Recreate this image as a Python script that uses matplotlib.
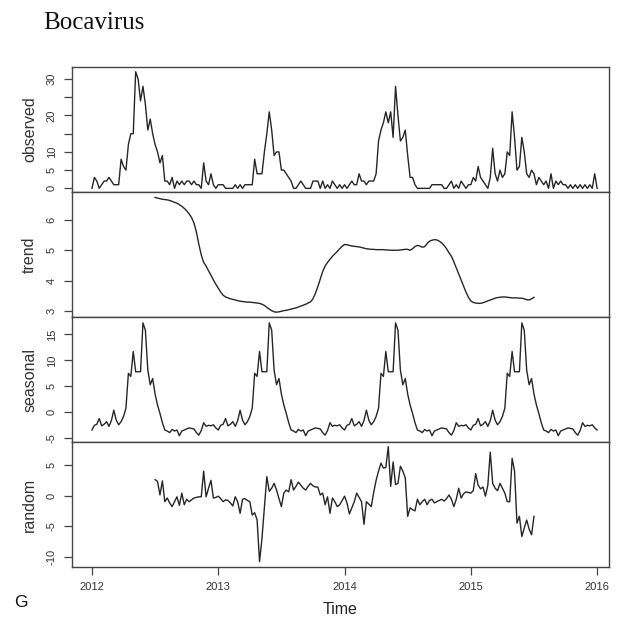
import numpy as np
import matplotlib.pyplot as plt

plt.rcParams['font.family'] = ['Liberation Sans', 'DejaVu Sans']

# weekly series, first week = 2012.0, 52 weeks per year
start_year = 2012
freq = 52
trend_offset = 26  # moving average loses half a year at each end

observed = [
    # 2012
    0, 3, 2, 0, 1, 2, 2, 3, 2, 1, 1, 1, 8, 6, 5, 12, 15, 15, 32, 30,
    24, 28, 23, 16, 19, 15, 12, 10, 7, 9, 2, 2, 1, 3, 0, 2, 1, 2, 1, 2,
    2, 1, 2, 1, 1, 0, 7, 2, 1, 4, 1, 0,
    # 2013
    1, 1, 1, 0, 0, 0, 0, 1, 0, 1, 0, 1, 1, 1, 1, 8, 4, 4, 4, 10,
    15, 21, 16, 9, 10, 10, 5, 5, 4, 3, 2, 0, 0, 1, 2, 1, 0, 0, 0, 2,
    2, 2, 0, 2, 0, 1, 0, 2, 1, 0, 1, 0,
    # 2014
    1, 0, 1, 2, 1, 1, 4, 2, 2, 1, 2, 2, 2, 4, 13, 16, 18, 21, 18, 21,
    14, 28, 20, 13, 14, 16, 9, 3, 3, 1, 0, 0, 0, 0, 0, 0, 1, 1, 1, 1,
    1, 0, 0, 1, 2, 0, 1, 0, 2, 1, 0, 1,
    # 2015
    1, 3, 2, 6, 3, 2, 1, 0, 3, 11, 4, 2, 5, 3, 4, 10, 9, 21, 14, 5,
    6, 14, 10, 4, 3, 5, 4, 1, 3, 2, 1, 2, 0, 4, 0, 2, 1, 2, 1, 1,
    0, 1, 0, 1, 0, 1, 0, 1, 0, 1, 0, 4, 0,
]

trend = [
    6.74, 6.72, 6.70, 6.68, 6.67, 6.66, 6.64, 6.61, 6.58, 6.55,
    6.50, 6.45, 6.38, 6.30, 6.20, 6.08, 5.90, 5.60, 5.20, 4.85,
    4.60, 4.48, 4.32, 4.18, 4.02, 3.88, 3.75, 3.62, 3.52, 3.46,
    3.43, 3.40, 3.38, 3.36, 3.34, 3.32, 3.31, 3.30, 3.29, 3.29,
    3.28, 3.27, 3.26, 3.25, 3.22, 3.18, 3.12, 3.06, 3.01, 2.97,
    2.96, 2.97, 2.99, 3.01, 3.02, 3.04, 3.06, 3.08, 3.10, 3.13,
    3.16, 3.19, 3.22, 3.26, 3.30, 3.40, 3.58, 3.80, 4.05, 4.30,
    4.48, 4.60, 4.70, 4.80, 4.88, 4.96, 5.05, 5.13, 5.19, 5.18,
    5.16, 5.14, 5.13, 5.12, 5.11, 5.09, 5.07, 5.05, 5.04, 5.03,
    5.03, 5.02, 5.02, 5.02, 5.02, 5.01, 5.01, 5.00, 5.00, 5.00,
    5.00, 5.01, 5.02, 5.03, 5.03, 5.00, 5.05, 5.12, 5.16, 5.14,
    5.10, 5.12, 5.22, 5.30, 5.33, 5.35, 5.34, 5.30, 5.24, 5.16,
    5.05, 4.92, 4.80, 4.62, 4.42, 4.22, 4.02, 3.82, 3.62, 3.45,
    3.33, 3.28, 3.26, 3.25, 3.25, 3.27, 3.30, 3.33, 3.36, 3.39,
    3.42, 3.44, 3.45, 3.46, 3.46, 3.45, 3.44, 3.43, 3.43, 3.43,
    3.42, 3.42, 3.40, 3.37, 3.36, 3.40, 3.45,
]

# one year of the seasonal figure, repeats every year
seasonal_year = [
    -3.4, -2.5, -2.3, -1.2, -2.6, -2.3, -1.8, -2.7, -1.6, 0.4,
    -1.5, -2.4, -1.8, -0.8, 0.8, 7.5, 6.9, 11.7, 7.8, 7.8,
    7.8, 17.2, 15.8, 8.1, 5.3, 6.5, 3.5, 1.4, -0.2, -2.0,
    -3.4, -3.6, -3.9, -3.3, -3.6, -3.4, -4.5, -3.6, -3.4, -3.2,
    -3.0, -3.1, -3.2, -3.9, -4.4, -3.5, -2.0, -2.7, -2.5, -2.6,
    -2.4, -3.0,
]

random_part = [
    2.6, 2.3, 0.1, 2.4, -1.0, -0.4, -1.2, -1.8, -1.0, -0.2,
    -1.6, 0.4, -1.5, -0.6, -1.0, -0.7, -0.4, -0.3, -0.2, -0.2,
    4.0, -0.2, 1.2, 2.5, -0.4, -0.3, -0.1, -0.5, -1.0, -0.7,
    -0.8, -1.2, -1.7, -0.2, -1.0, -2.9, -0.6, -0.5, -0.8, -1.0,
    -3.2, -2.8, -4.0, -10.8, -7.0, -2.0, 3.1, 0.7, 1.2, 2.0,
    0.9, -0.5, -1.8, 0.4, 0.9, 0.6, 2.6, 0.9, 1.5, 2.2,
    1.7, 1.2, 0.9, 1.5, 2.0, 1.6, 1.4, 1.4, 0.1, 0.4,
    -1.5, -0.2, -2.9, -0.4, -1.0, -1.8, -1.5, -0.8, -0.1, -1.2,
    -3.0, -2.0, -1.0, 0.4, -0.3, -1.0, -4.7, -1.0, -1.4, -1.8,
    0.5, 2.5, 4.0, 5.3, 4.5, 4.6, 8.0, 1.5, 5.5, 1.8,
    2.0, 4.8, 4.0, 2.9, -3.4, -2.0, -2.3, -2.5, -0.6, -1.5,
    -1.0, -0.6, -1.5, -0.8, -0.6, -1.2, -1.0, -0.8, -0.6, -0.9,
    -0.5, 0.1, -0.6, -1.8, -0.6, 1.2, -0.4, 0.3, 0.6, 0.5,
    0.4, 0.8, 3.6, 1.7, 1.1, 1.4, -0.1, 1.7, 7.1, 2.0,
    1.2, 0.8, 2.0, 1.2, 0.4, -1.0, -1.0, 6.1, 4.0, -4.5,
    -3.4, -6.7, -5.3, -4.0, -5.5, -6.4, -3.4,
]

year_ticks = [2012, 2013, 2014, 2015, 2016]

t_full = start_year + np.arange(len(observed)) / freq
t_mid = start_year + (trend_offset + np.arange(len(trend))) / freq
seasonal = np.tile(seasonal_year, len(observed) // freq + 1)[:len(observed)]

panels = [
    ("observed", t_full, observed, (-1.0, 33.3), [0, 5, 10, 15, 20, 25, 30],
     ["0", "5", "10", "", "20", "", "30"]),
    ("trend", t_mid, trend, (2.80, 6.92), [3, 4, 5, 6], ["3", "4", "5", "6"]),
    ("seasonal", t_full, seasonal, (-5.71, 18.33), [-5, 0, 5, 10, 15],
     ["-5", "0", "5", "10", "15"]),
    ("random", t_mid, random_part, (-11.68, 8.76), [-10, -5, 0, 5],
     ["-10", "-5", "0", "5"]),
]

W, H = 622, 620
fig = plt.figure(figsize=(W / 100, H / 100), dpi=100)

left, right = 72, 609
top, bottom = 67, 567
ph = (bottom - top) / 4
line_col = "#262626"
frame_col = "#444444"

for i, (name, t, vals, ylim, ticks, labels) in enumerate(panels):
    y0 = top + i * ph
    ax = fig.add_axes([left / W, 1 - (y0 + ph) / H, (right - left) / W, ph / H])
    ax.plot(t, vals, color=line_col, lw=1.0)
    ax.set_xlim(2011.842, 2016.094)
    ax.set_ylim(*ylim)
    ax.set_yticks(ticks)
    ax.set_yticklabels(labels, rotation=90, va="center", fontsize=8, color="#333333")
    ax.set_ylabel(name, fontsize=11.5, color="#333333")
    ax.yaxis.set_label_coords(-0.065, 0.5)
    ax.tick_params(axis="y", length=6, width=0.9, color=frame_col, pad=5)
    for s in ax.spines.values():
        s.set_color(frame_col)
        s.set_linewidth(1.0)
    if i < 3:
        ax.set_xticks([])
    else:
        ax.set_xticks(year_ticks)
        ax.set_xticklabels([str(y) for y in year_ticks], fontsize=8, color="#333333")
        ax.tick_params(axis="x", length=6, width=0.9, color=frame_col, pad=5)
        ax.set_xlabel("Time", fontsize=11.5, color="#222222", labelpad=7)

fig.text(43 / W, 1 - 29 / H, "Bocavirus", fontsize=18,
         family=["Liberation Serif", "DejaVu Serif"], color="#111111",
         ha="left", va="baseline")
fig.text(14 / W, 1 - 607 / H, "G", fontsize=12.5, color="#111111",
         ha="left", va="baseline")

fig.savefig("out.png", dpi=100, facecolor="white")
